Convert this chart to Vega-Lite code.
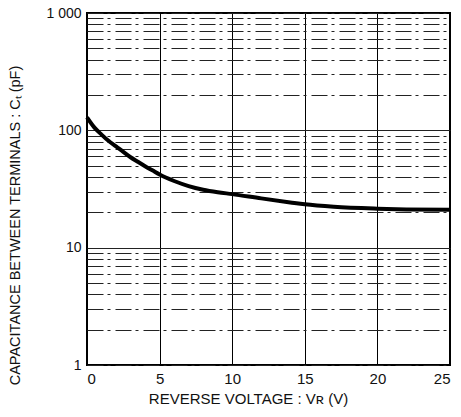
{
  "$schema": "https://vega.github.io/schema/vega-lite/v6.json",
  "width": 363,
  "height": 352,
  "autosize": "none",
  "padding": {"left": 87, "top": 13, "right": 11, "bottom": 52},
  "config": {
    "view": {"stroke": "#000", "strokeWidth": 2},
    "font": "Liberation Sans",
    "axis": {"labelColor": "#111", "titleColor": "#111", "domain": false, "ticks": false}
  },
  "data": {
    "values": [
      {"v": 0, "c": 129},
      {"v": 0.5, "c": 106},
      {"v": 1, "c": 92},
      {"v": 1.5, "c": 81},
      {"v": 2, "c": 73},
      {"v": 2.5, "c": 65.5},
      {"v": 3, "c": 59},
      {"v": 3.5, "c": 54},
      {"v": 4, "c": 49.5},
      {"v": 4.5, "c": 45.6},
      {"v": 5, "c": 42},
      {"v": 6, "c": 37},
      {"v": 7, "c": 33.5},
      {"v": 8, "c": 31.2},
      {"v": 9, "c": 29.7},
      {"v": 10, "c": 28.6},
      {"v": 12, "c": 26.3},
      {"v": 14, "c": 24.3},
      {"v": 15, "c": 23.4},
      {"v": 17, "c": 22.3},
      {"v": 20, "c": 21.5},
      {"v": 22, "c": 21.2},
      {"v": 25, "c": 21}
    ]
  },
  "mark": {"type": "line", "color": "#000", "strokeWidth": 4, "interpolate": "monotone"},
  "encoding": {
    "x": {
      "field": "v",
      "type": "quantitative",
      "scale": {"domain": [0, 25], "nice": false},
      "axis": {
        "values": [0, 5, 10, 15, 20, 25],
        "grid": true,
        "gridColor": "#000",
        "gridWidth": 1,
        "labelFontSize": 15,
        "labelPadding": 6,
        "title": "REVERSE VOLTAGE : Vʀ (V)",
        "titleFontSize": 15,
        "titleFontWeight": "normal",
        "titleX": 161,
        "titleY": 26,
        "titleBaseline": "top"
      }
    },
    "y": {
      "field": "c",
      "type": "quantitative",
      "scale": {"type": "log", "domain": [1, 1000], "nice": false},
      "axis": {
        "values": [1, 2, 3, 4, 5, 6, 7, 8, 9, 10, 20, 30, 40, 50, 60, 70, 80, 90, 100, 200, 300, 400, 500, 600, 700, 800, 900, 1000],
        "labelExpr": "datum.value == 1000 ? '1 000' : (datum.value == 1 || datum.value == 10 || datum.value == 100) ? datum.label : ''",
        "labelFontSize": 14,
        "labelPadding": 6,
        "grid": true,
        "gridColor": "#222",
        "gridWidth": 1,
        "gridDash": {
          "condition": {"test": "datum.value == 10 || datum.value == 100", "value": []},
          "value": [16, 4, 3, 5]
        },
        "title": "CAPACITANCE BETWEEN TERMINALS : Cₜ (pF)",
        "titleFontSize": 14.5,
        "titleFontWeight": "normal",
        "titleLimit": 420,
        "titleX": -72,
        "titleY": 212,
        "titleAlign": "center",
        "titleBaseline": "middle",
        "titleAngle": -90
      }
    }
  }
}
